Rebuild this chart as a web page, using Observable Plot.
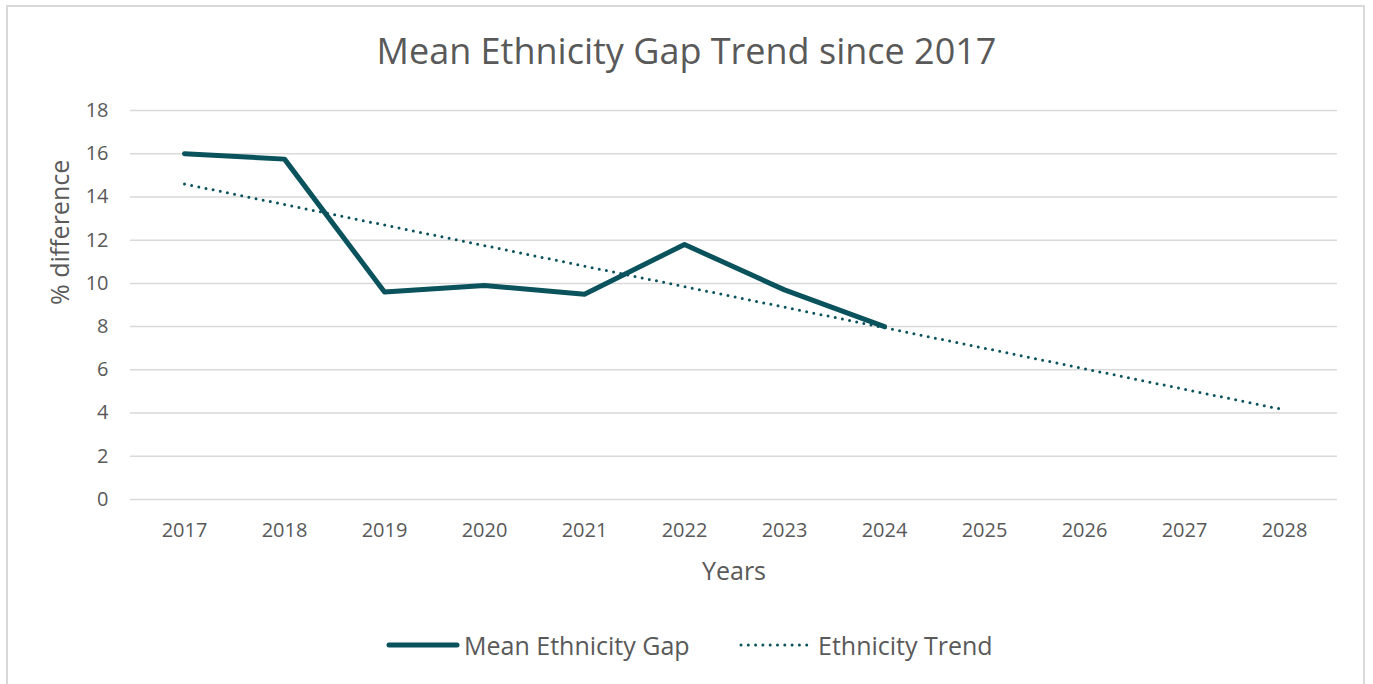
<!DOCTYPE html>
<html>
<head>
<meta charset="utf-8">
<script src="https://cdn.jsdelivr.net/npm/d3@7"></script>
<script src="https://cdn.jsdelivr.net/npm/@observablehq/plot@0.6"></script>
<style>
  html, body { margin: 0; padding: 0; background: #fff; }
  body { width: 1373px; height: 684px; position: relative; overflow: hidden; font-family: "Open Sans", sans-serif; }
  #frame { position: absolute; left: 6px; top: 5px; width: 1359px; height: 690px; border: 2px solid #d9d9d9; box-sizing: border-box; }
  #title { position: absolute; left: 0; top: 26px; width: 1373px; text-align: center; font-size: 36px; line-height: 50px; color: #595959; }
  #chart { position: absolute; left: 0; top: 90px; }
  #legend { position: absolute; top: 630px; left: 0; width: 1373px; height: 30px; font-size: 25px; color: #595959; }
  .lg { position: absolute; top: 0; display: flex; align-items: center; height: 30px; }
  svg.sw { display: block; }
</style>
</head>
<body>
<div id="frame"></div>
<div id="title">Mean Ethnicity Gap Trend since 2017</div>
<div id="chart"></div>
<div id="legend">
  <div class="lg" style="left:386px"><svg class="sw" width="74" height="10"><line x1="3" y1="5" x2="71" y2="5" stroke="#0a525c" stroke-width="5" stroke-linecap="round"/></svg><span style="margin-left:4px">Mean Ethnicity Gap</span></div>
  <div class="lg" style="left:738px"><svg class="sw" width="74" height="10"><line x1="3" y1="5" x2="71" y2="5" stroke="#0a525c" stroke-width="3" stroke-linecap="round" stroke-dasharray="0 7.3"/></svg><span style="margin-left:6px">Ethnicity Trend</span></div>
</div>
<script>
const years = ["2017","2018","2019","2020","2021","2022","2023","2024","2025","2026","2027","2028"];
const gapYears = ["2017","2018","2019","2020","2021","2022","2023","2024"];
const gapValues = [16.0, 15.75, 9.6, 9.9, 9.5, 11.8, 9.7, 8.0];
const trendYears = ["2017","2028"];
const trendValues = [14.6, 4.15];
const yTicks = [0,2,4,6,8,10,12,14,16,18];

const gap = gapYears.map((y,i) => ({year: y, value: gapValues[i]}));
const trend = trendYears.map((y,i) => ({year: y, value: trendValues[i]}));

const color = "#0a525c";
const textColor = "#595959";

const plot = Plot.plot({
  width: 1373,
  height: 500,
  marginTop: 20,
  marginBottom: 91,
  marginLeft: 130,
  marginRight: 36,
  style: { fontFamily: "Open Sans, sans-serif", background: "transparent", overflow: "visible" },
  x: { type: "point", domain: years, padding: 0.5 },
  y: { domain: [0, 18] },
  marks: [
    Plot.gridY(yTicks, { stroke: "#d9d9d9", strokeOpacity: 1, strokeWidth: 1.5 }),
    Plot.axisY(yTicks, { tickSize: 0, tickPadding: 22, fontSize: 20, fill: textColor, label: null }),
    Plot.axisX(years, { tickSize: 0, tickPadding: 23, fontSize: 20, fill: textColor, label: null }),
    Plot.text(["Years"], { frameAnchor: "bottom", dy: 72, fontSize: 25, fill: textColor, lineAnchor: "middle" }),
    Plot.text(["% difference"], { frameAnchor: "left", dx: -70, rotate: -90, fontSize: 25, fill: textColor }),
    Plot.line(trend, { x: "year", y: "value", stroke: color, strokeWidth: 3, strokeDasharray: "0 7.3", strokeLinecap: "round" }),
    Plot.line(gap, { x: "year", y: "value", stroke: color, strokeWidth: 5, strokeLinecap: "round", strokeLinejoin: "round" })
  ]
});
document.getElementById("chart").appendChild(plot);
</script>
</body>
</html>
